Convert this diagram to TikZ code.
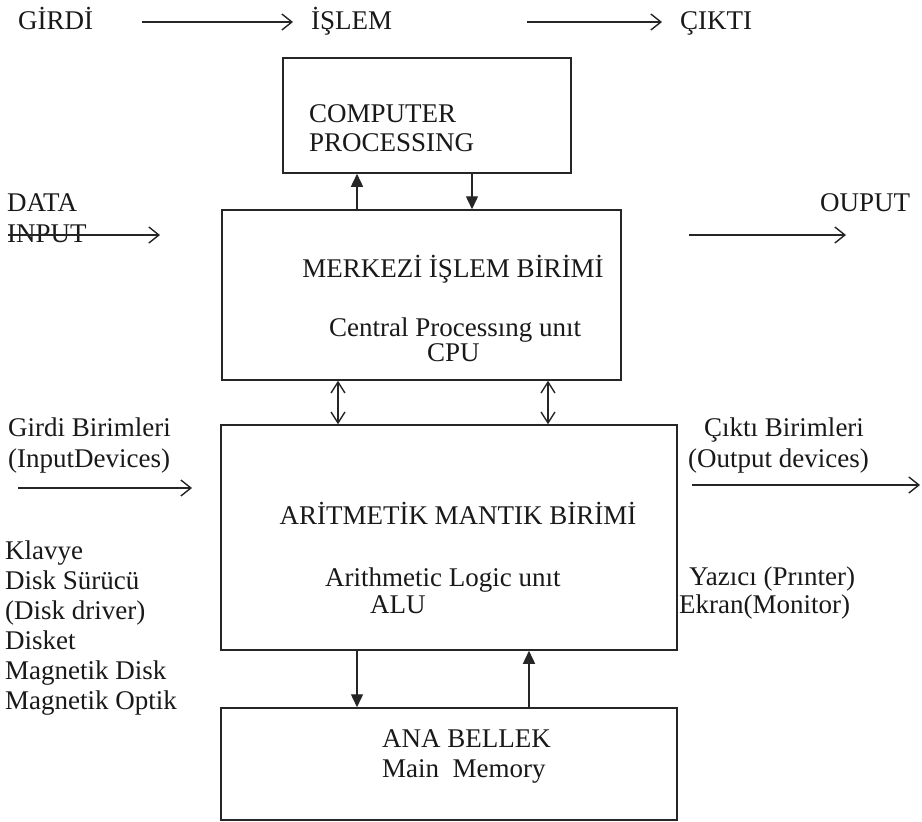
\documentclass[tikz,border=0pt]{standalone}
\usepackage{fontspec}
\setmainfont{Liberation Serif}
\usetikzlibrary{arrows.meta}
\begin{document}
\begin{tikzpicture}[x=1pt,y=-1pt,
  lbl/.style={inner sep=0pt, anchor=base west, font=\fontsize{27}{30}\selectfont, text=black!90},
  clbl/.style={lbl, anchor=base},
  box/.style={draw=black!85, line width=1.5pt, inner sep=0pt},
  openarrow/.style={draw=black!85, line width=1.4pt, -{Straight Barb[length=10pt,width=16pt,line width=1.4pt]}},
  dblarrow/.style={draw=black!85, line width=1.4pt, {Straight Barb[length=11pt,width=14pt,line width=1.4pt]}-{Straight Barb[length=11pt,width=14pt,line width=1.4pt]}},
  solidarrow/.style={draw=black!85, line width=1.4pt, -{Triangle[length=13pt,width=12pt]}}
]
\useasboundingbox (0,0) rectangle (922,822);
\fill[white] (0,0) rectangle (922,822);

% boxes
\node[box, minimum width=288pt, minimum height=115pt] (cp)  at (427,115.5) {};
\node[box, minimum width=399pt, minimum height=170pt] (cpu) at (421.5,295) {};
\node[box, minimum width=456pt, minimum height=225pt] (alu) at (449,537.5) {};
\node[box, minimum width=456pt, minimum height=112pt] (mm)  at (449,764) {};

% top row
\node[lbl] (girdi) at (18,29) {GİRDİ};
\node[lbl] (islem) at (311,29) {İŞLEM};
\node[lbl] (cikti) at (680,29) {ÇIKTI};
\coordinate (t1s) at (142,22); \coordinate (t1e) at (293,22);
\coordinate (t2s) at (527,22); \coordinate (t2e) at (662,22);
\draw[openarrow] (t1s) -- (t1e);
\draw[openarrow] (t2s) -- (t2e);

% computer processing
\node[lbl] (cp1) at (309,122) {COMPUTER};
\node[lbl] (cp2) at (309,151) {PROCESSING};

% data input / output
\node[lbl] (data) at (7,211) {DATA};
\node[lbl] (input) at (7,242) {INPUT};
\node[lbl] (ouput) at (820,211) {OUPUT};
\coordinate (dis) at (8,235); \coordinate (die) at (160,235);
\coordinate (dos) at (689,235); \coordinate (doe) at (846,235);
\draw[openarrow] (dis) -- (die);
\draw[openarrow] (dos) -- (doe);

% CPU texts
\node[clbl] (merk) at (453,277) {MERKEZİ İŞLEM BİRİMİ};
\node[lbl] (cent) at (329,336) {Central Processıng unıt};
\node[lbl] (cpul) at (427,361) {CPU};

% input / output devices
\node[lbl] (gb1) at (8,436) {Girdi Birimleri};
\node[lbl] (gb2) at (8,467) {(InputDevices)};
\node[lbl] (cb1) at (704,436) {Çıktı Birimleri};
\node[lbl] (cb2) at (688,467) {(Output devices)};
\coordinate (ins) at (18,488); \coordinate (ine) at (192,488);
\coordinate (ous) at (692,485); \coordinate (oue) at (920,485);
\draw[openarrow] (ins) -- (ine);
\draw[openarrow] (ous) -- (oue);

% ALU texts
\node[clbl] (arit) at (458,524) {ARİTMETİK MANTIK BİRİMİ};
\node[lbl] (arl) at (325,586) {Arithmetic Logic unıt};
\node[lbl] (alul) at (370,613) {ALU};

% left list
\node[lbl] (k1) at (5,559) {Klavye};
\node[lbl] (k2) at (5,589) {Disk Sürücü};
\node[lbl] (k3) at (5,619) {(Disk driver)};
\node[lbl] (k4) at (5,649) {Disket};
\node[lbl] (k5) at (5,679) {Magnetik Disk};
\node[lbl] (k6) at (5,709) {Magnetik Optik};

% right list
\node[lbl] (y1) at (689,585) {Yazıcı (Prınter)};
\node[lbl] (y2) at (679,613) {Ekran(Monitor)};

% main memory
\node[lbl] (ana) at (382,747) {ANA BELLEK};
\node[lbl] (mainm) at (382,777) {Main\ \ Memory};

% connectors between boxes
\coordinate (xa) at (357,0);
\coordinate (xb) at (472,0);
\coordinate (xc) at (338,0);
\coordinate (xd) at (548,0);
\coordinate (xe) at (357,0);
\coordinate (xf) at (529,0);
\draw[solidarrow] (xa |- cpu.north) -- (xa |- cp.south);
\draw[solidarrow] (xb |- cp.south) -- (xb |- cpu.north);
\draw[dblarrow] (xc |- cpu.south) -- (xc |- alu.north);
\draw[dblarrow] (xd |- cpu.south) -- (xd |- alu.north);
\draw[solidarrow] (xe |- alu.south) -- (xe |- mm.north);
\draw[solidarrow] (xf |- mm.north) -- (xf |- alu.south);
\end{tikzpicture}
\end{document}
